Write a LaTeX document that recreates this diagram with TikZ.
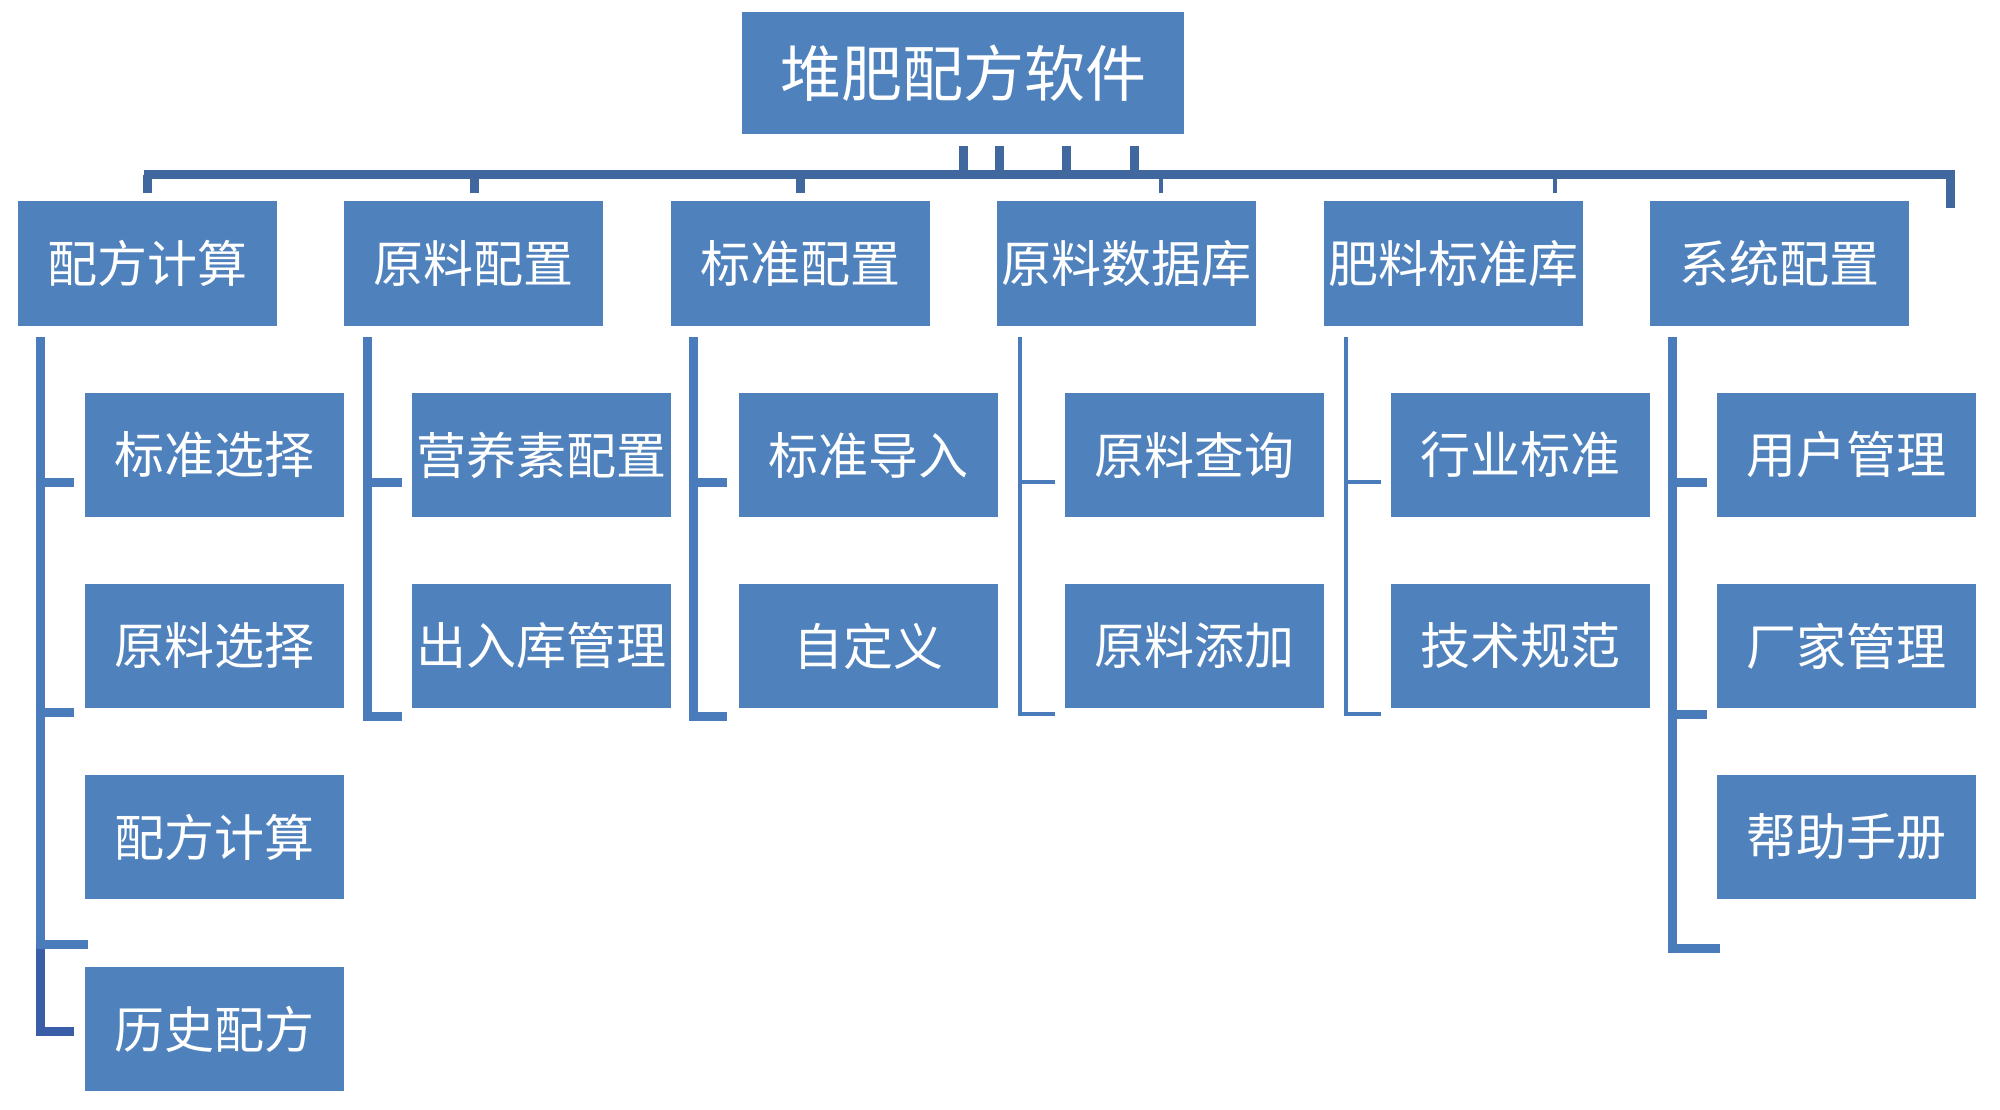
\documentclass[tikz,border=0pt]{standalone}
\usepackage{fontspec}
\newfontfamily\cjk{Noto Sans CJK SC}
\definecolor{boxblue}{HTML}{4F81BD}
\definecolor{barblue}{HTML}{41689E}
\definecolor{lineblue}{HTML}{4A7BBA}
\definecolor{deepblue}{HTML}{3A5DA8}
\tikzset{
  rootbox/.style={fill=boxblue, draw=none, minimum width=442pt, minimum height=122pt, inner sep=0pt, text=white, font=\cjk\fontsize{61}{61}\selectfont},
  lvlbox/.style={fill=boxblue, draw=none, minimum width=259pt, minimum height=124pt, inner sep=0pt, text=white, font=\cjk\fontsize{50}{50}\selectfont},
  thick line/.style={draw=lineblue, line width=9pt},
  thin line/.style={draw=lineblue, line width=4pt},
  bar line/.style={draw=barblue, line width=9pt},
  barthin/.style={draw=barblue, line width=4pt},
}
\begin{document}
\begin{tikzpicture}[x=1pt,y=-1pt]
\useasboundingbox[fill=white] (0,0) rectangle (2000,1110);

% root
\node[rootbox] (root) at (963,73.5) {堆肥配方软件};

% level 1
\node[lvlbox] (a) at (147.5,263.5) {配方计算};
\node[lvlbox] (b) at (473.5,263.5) {原料配置};
\node[lvlbox] (c) at (800.5,263.5) {标准配置};
\node[lvlbox] (d) at (1126.5,263.5) {原料数据库};
\node[lvlbox] (e) at (1453.5,263.5) {肥料标准库};
\node[lvlbox] (f) at (1779.5,263.5) {系统配置};

% children
\node[lvlbox] (a1) at (214.5,455) {标准选择};
\node[lvlbox] (a2) at (214.5,646) {原料选择};
\node[lvlbox] (a3) at (214.5,837) {配方计算};
\node[lvlbox] (a4) at (214.5,1029) {历史配方};
\node[lvlbox] (b1) at (541.5,455) {营养素配置};
\node[lvlbox] (b2) at (541.5,646) {出入库管理};
\node[lvlbox] (c1) at (868.5,455) {标准导入};
\node[lvlbox] (c2) at (868.5,646) {自定义};
\node[lvlbox] (d1) at (1194.5,455) {原料查询};
\node[lvlbox] (d2) at (1194.5,646) {原料添加};
\node[lvlbox] (e1) at (1520.5,455) {行业标准};
\node[lvlbox] (e2) at (1520.5,646) {技术规范};
\node[lvlbox] (f1) at (1846.5,455) {用户管理};
\node[lvlbox] (f2) at (1846.5,646) {厂家管理};
\node[lvlbox] (f3) at (1846.5,837) {帮助手册};

% top bar
\coordinate (barL) at (144,175);
\coordinate (barR) at (1955,175);
\draw[bar line] (barL) -- (barR);
\foreach \x in {963,999,1066,1134}{
  \draw[bar line] (\x,146) -- (\x,175);
}
\foreach \x in {147,474,800}{
  \draw[bar line] (\x,175) -- (\x,193);
}
\foreach \x in {1161,1555}{
  \draw[barthin] (\x,175) -- (\x,193);
}
\draw[bar line] (1950,175) -- (1950,208);

% column 1
\draw[thick line] (40,337) -- (40,940);
\draw[draw=deepblue, line width=9pt] (40,940) -- (40,1031.5) -- (74,1031.5);
\draw[thick line] (35.5,482) -- (74,482);
\draw[thick line] (35.5,712) -- (74,712);
\draw[thick line] (35.5,944) -- (88,944);

% column 2
\draw[thick line] (367,337) -- (367,716.5) -- (402,716.5);
\draw[thick line] (362.5,482) -- (402,482);

% column 3
\draw[thick line] (693,337) -- (693,716.5) -- (727,716.5);
\draw[thick line] (688.5,482) -- (727,482);

% column 4
\draw[thin line] (1020,337) -- (1020,714) -- (1055,714);
\draw[thin line] (1018,482) -- (1055,482);

% column 5
\draw[thin line] (1346,337) -- (1346,714) -- (1381,714);
\draw[thin line] (1344,482) -- (1381,482);

% column 6
\draw[thick line] (1672,337) -- (1672,948.5) -- (1720,948.5);
\draw[thick line] (1667.5,482) -- (1707,482);
\draw[thick line] (1667.5,714) -- (1707,714);
\end{tikzpicture}
\end{document}
